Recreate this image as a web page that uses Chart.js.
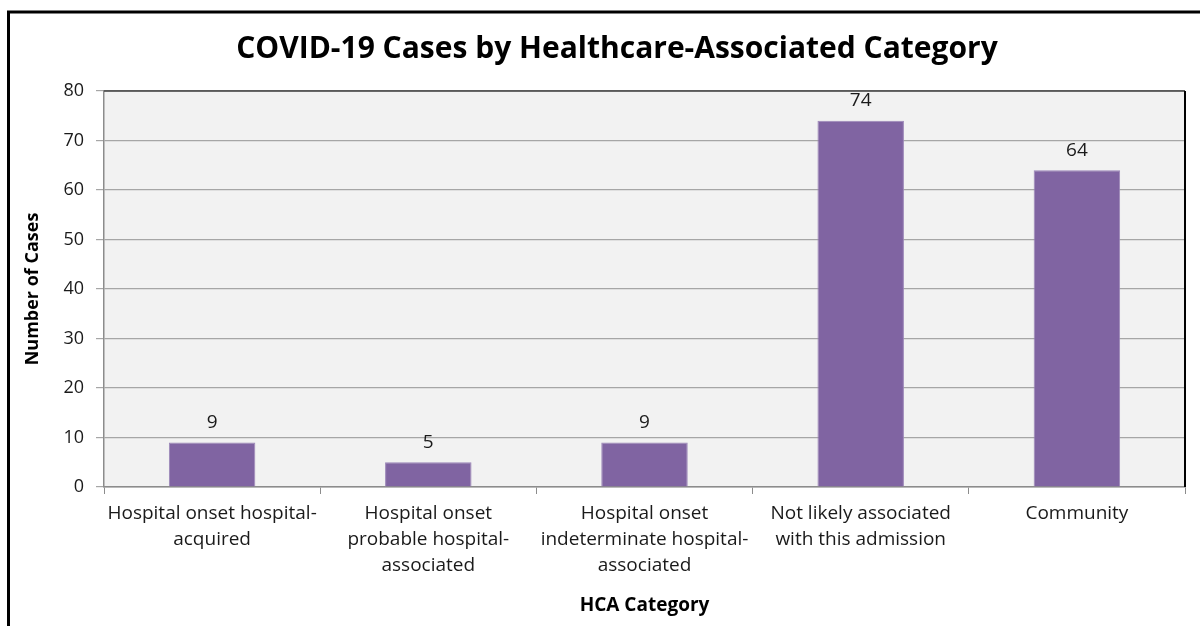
<!DOCTYPE html>
<html>
<head>
<meta charset="utf-8">
<script src="https://cdn.jsdelivr.net/npm/chart.js@4/dist/chart.umd.min.js"></script>
<style>
  html, body { margin: 0; padding: 0; background: #fff; }
  #wrap { width: 1200px; height: 626px; position: relative; }
</style>
</head>
<body>
<div id="wrap"><canvas id="hcaChart" width="1200" height="626"></canvas></div>
<script>
// chart data
const categories = [
    ['Hospital onset hospital-', 'acquired'],
    ['Hospital onset', 'probable hospital-', 'associated'],
    ['Hospital onset', 'indeterminate hospital-', 'associated'],
    ['Not likely associated', 'with this admission'],
    ['Community']
];
const caseCounts = [9, 5, 9, 74, 64];
const yTicks = [0, 10, 20, 30, 40, 50, 60, 70, 80];

const chartTitle = 'COVID-19 Cases by Healthcare-Associated Category';
const FONT = '"Open Sans", Lato, sans-serif';

// frame, plot background, title and bar labels
const decorPlugin = {
    id: 'decor',
    beforeDraw(chart) {
        const {ctx, chartArea: a} = chart;
        ctx.save();
        ctx.fillStyle = '#F2F2F2';
        ctx.fillRect(a.left, a.top, a.right - a.left, a.bottom - a.top);
        ctx.restore();
    },
    afterDraw(chart) {
        const {ctx, chartArea: a} = chart;
        ctx.save();
        // outer frame (left + top)
        ctx.strokeStyle = '#000';
        ctx.lineWidth = 3;
        ctx.beginPath();
        ctx.moveTo(8.5, 626);
        ctx.lineTo(8.5, 12);
        ctx.lineTo(1200, 12);
        ctx.stroke();
        // plot border top/right
        ctx.lineWidth = 1.5;
        ctx.strokeStyle = '#404040';
        ctx.beginPath();
        ctx.moveTo(a.left, a.top);
        ctx.lineTo(a.right, a.top);
        ctx.stroke();
        ctx.strokeStyle = '#000';
        ctx.lineWidth = 2;
        ctx.beginPath();
        ctx.moveTo(a.right, a.top);
        ctx.lineTo(a.right, a.bottom);
        ctx.stroke();
        // title
        ctx.fillStyle = '#000';
        ctx.font = 'bold 30px ' + FONT;
        ctx.textAlign = 'center';
        ctx.textBaseline = 'middle';
        ctx.fillText(chartTitle, 617, 49);
        // value labels
        ctx.font = '19px ' + FONT;
        ctx.fillStyle = '#1a1a1a';
        const meta = chart.getDatasetMeta(0);
        meta.data.forEach((bar, i) => {
            ctx.fillText(String(caseCounts[i]), bar.x, bar.y - 20);
        });
        ctx.restore();
    }
};

new Chart(document.getElementById('hcaChart'), {
    type: 'bar',
    data: {
        labels: categories,
        datasets: [{
            data: caseCounts,
            backgroundColor: '#8064A2',
            borderColor: '#9b86b8',
            borderWidth: 1,
            barPercentage: 0.4,
            categoryPercentage: 1.0
        }]
    },
    options: {
        responsive: false,
        animation: false,
        layout: {padding: {left: 0, right: 15, top: 91, bottom: 0}},
        plugins: {
            legend: {display: false},
            tooltip: {enabled: false},
            title: {display: false}
        },
        scales: {
            x: {
                offset: true,
                grid: {offset: true, drawOnChartArea: false, drawTicks: true, tickLength: 7, color: '#8c8c8c'},
                border: {color: '#8c8c8c', width: 1.5},
                ticks: {
                    color: '#1a1a1a',
                    font: {family: FONT, size: 19, lineHeight: 1.35},
                    maxRotation: 0,
                    autoSkip: false,
                    padding: 7
                },
                title: {
                    display: true,
                    text: 'HCA Category',
                    color: '#000',
                    font: {family: FONT, size: 19, weight: 'bold'},
                    padding: {top: 0, bottom: 9}
                },
                afterFit(scale) { scale.height = 139; }
            },
            y: {
                min: 0,
                max: 80,
                afterBuildTicks(scale) { scale.ticks = yTicks.map(v => ({value: v})); },
                grid: {color: '#a6a6a6', lineWidth: 1.2, tickLength: 8},
                border: {color: '#8c8c8c', width: 1.5},
                ticks: {
                    color: '#1a1a1a',
                    font: {family: FONT, size: 18},
                    padding: 12
                },
                title: {
                    display: true,
                    text: 'Number of Cases',
                    color: '#000',
                    font: {family: FONT, size: 18, weight: 'bold'},
                    padding: {top: 22, bottom: 0}
                },
                afterFit(scale) { scale.width = 104; }
            }
        }
    },
    plugins: [decorPlugin]
});
</script>
</body>
</html>
